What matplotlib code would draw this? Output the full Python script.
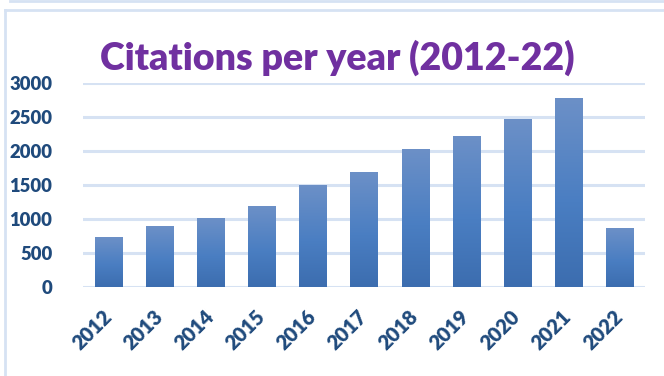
import matplotlib
matplotlib.use("Agg")
import matplotlib.pyplot as plt
import numpy as np
from matplotlib.colors import LinearSegmentedColormap
from matplotlib.lines import Line2D
from matplotlib.transforms import ScaledTranslation

years = ["2012", "2013", "2014", "2015", "2016", "2017", "2018", "2019", "2020", "2021", "2022"]
citations = [730, 890, 1010, 1190, 1500, 1680, 2020, 2210, 2470, 2770, 865]
yticks = [0, 500, 1000, 1500, 2000, 2500, 3000]
title = "Citations per year (2012-22)"

W, H = 664, 376
fig = plt.figure(figsize=(W / 100, H / 100), dpi=100)
ax = fig.add_axes([83 / W, 1 - 287 / H, (645 - 83) / W, (287 - 83.3) / H])

cmap = LinearSegmentedColormap.from_list(
    "g", [(0.0, "#3C6DAF"), (0.45, "#4A7EC2"), (1.0, "#6C90C7")])
grad = np.linspace(0, 1, 256).reshape(-1, 1)
bw = 0.53
x = np.arange(len(years))
bars = ax.bar(x, citations, width=bw, color="none", zorder=3)
for b in bars:
    x0, y0 = b.get_x(), b.get_y()
    ax.imshow(grad, cmap=cmap, origin="lower", aspect="auto",
              extent=[x0, x0 + b.get_width(), y0, y0 + b.get_height()],
              zorder=3, interpolation="bilinear")

ax.set_xlim(-0.5, len(years) - 0.5)
ax.set_ylim(0, 3000)
ax.set_yticks(yticks)
ax.set_xticks(x)
ax.set_xticklabels(years, rotation=45, ha="right", rotation_mode="anchor")
for s in ax.spines.values():
    s.set_visible(False)
ax.grid(axis="y", color="#D6E2F3", linewidth=2.2, zorder=0)
ax.set_axisbelow(True)
ax.tick_params(length=0)
ax.tick_params(axis="y", pad=22)
ax.tick_params(axis="x", pad=14)
for lab in ax.get_yticklabels():
    lab.set_fontfamily("Lato")
    lab.set_fontweight("heavy")
    lab.set_fontsize(13.3)
    lab.set_color("#1F4A7C")
off = ScaledTranslation(-7 / 100, 0, fig.dpi_scale_trans)
for lab in ax.get_xticklabels():
    lab.set_fontfamily("Lato")
    lab.set_fontweight("heavy")
    lab.set_fontsize(14.5)
    lab.set_color("#1F4A7C")
    lab.set_transform(lab.get_transform() + off)

fig.text(337 / W, 1 - 69.5 / H, title, ha="center", va="baseline",
         fontfamily="Lato", fontweight="heavy", fontsize=27, color="#7030A0")

# outer frame lines
fig.add_artist(Line2D([5 / W, 5 / W], [0, 1 - 10 / H], transform=fig.transFigure,
                      color="#D6E2F3", linewidth=2))
fig.add_artist(Line2D([5 / W, 1], [1 - 10 / H, 1 - 10 / H], transform=fig.transFigure,
                      color="#D6E2F3", linewidth=2))
fig.add_artist(Line2D([10 / W, 1], [1 - 0.6 / H, 1 - 0.6 / H], transform=fig.transFigure,
                      color="#D6E2F3", linewidth=2))

fig.savefig("out.png", dpi=100)
